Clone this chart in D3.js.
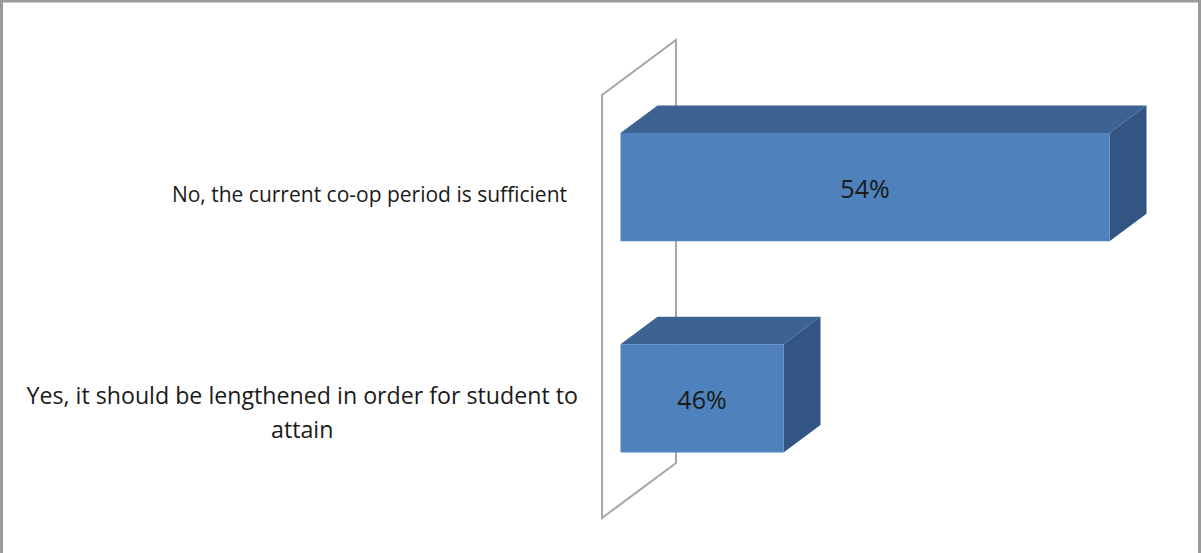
<!DOCTYPE html>
<html>
<head>
<meta charset="utf-8">
<script src="https://cdn.jsdelivr.net/npm/d3@7/dist/d3.min.js"></script>
<style>
  html, body { margin: 0; padding: 0; background: #ffffff; }
  svg { display: block; }
</style>
</head>
<body>
<svg id="chart" width="1201" height="553"></svg>
<script>
// ---- data ----
const categories = [
  ["No, the current co-op period is sufficient"],
  ["Yes, it should be lengthened in order for student to", "attain"]
];
const values = [0.54, 0.46];
const valueLabels = ["54%", "46%"];
const axisDomain = [0.42, 0.54];

// ---- layout / style ----
const W = 1201, H = 553;
const svg = d3.select("#chart");
const depth = { dx: 74, dy: -55 };          // full wall depth offset
const barZ = [0.25, 0.75];                  // bars occupy the middle half of depth
const proj = (x, y, z) => [x + z * depth.dx, y + z * depth.dy];
const labelSizes = [21, 23.2];
const labelRight = [567, 578];
const labelShift = [1, -8];
const lineH = 34;

const x = d3.scaleLinear().domain(axisDomain).range([602, 1091]);
const y = d3.scaleBand().domain(d3.range(categories.length))
  .range([95, 518]).paddingInner(0.488).paddingOuter(0.245);

const colors = { front: "#4f81bd", top: "#3d6392", side: "#325583", wall: "#a6a6a6" };
const font = "'Open Sans', 'Noto Sans', sans-serif";

// outer chart border
svg.append("rect").attr("x", 1.5).attr("y", 1).attr("width", W - 3).attr("height", H + 10)
  .attr("fill", "none").attr("stroke", "#9a9a9a").attr("stroke-width", 3);

// axis wall (vertical plane at axis minimum)
const x0 = x(axisDomain[0]);
const [yTop, yBot] = y.range();
const wallPts = [proj(x0, yTop, 0), proj(x0, yTop, 1), proj(x0, yBot, 1), proj(x0, yBot, 0)];
svg.append("path")
  .attr("d", d3.line()(wallPts) + "Z")
  .attr("fill", "none").attr("stroke", colors.wall).attr("stroke-width", 2);

// bars
const bars = svg.append("g").selectAll("g").data(values).join("g");
bars.each(function (v, i) {
  const g = d3.select(this);
  const xa = x0, xb = x(v);
  const ya = y(i), yb = y(i) + y.bandwidth();
  const [zf, zb] = barZ;
  const poly = pts => d3.line()(pts) + "Z";
  g.append("path").attr("fill", colors.top)
    .attr("d", poly([proj(xa, ya, zf), proj(xb, ya, zf), proj(xb, ya, zb), proj(xa, ya, zb)]));
  g.append("path").attr("fill", colors.side)
    .attr("d", poly([proj(xb, ya, zf), proj(xb, ya, zb), proj(xb, yb, zb), proj(xb, yb, zf)]));
  g.append("path").attr("fill", colors.front)
    .attr("d", poly([proj(xa, ya, zf), proj(xb, ya, zf), proj(xb, yb, zf), proj(xa, yb, zf)]));
  const c = proj((xa + xb) / 2, (ya + yb) / 2, zf);
  g.append("text")
    .attr("x", c[0]).attr("y", c[1] + 11)
    .attr("text-anchor", "middle")
    .attr("font-family", font)
    .attr("font-size", 25)
    .attr("fill", "#1a1a1a")
    .text(valueLabels[i]);
});

// category labels
categories.forEach((lines, i) => {
  const cy = y(i) + y.bandwidth() / 2 + labelShift[i];
  const t = svg.append("text")
    .attr("font-family", font).attr("font-size", labelSizes[i]).attr("fill", "#1a1a1a");
  const n = lines.length;
  const spans = lines.map((ln, j) => t.append("tspan")
    .attr("y", cy + (j - (n - 1) / 2) * lineH + (n > 1 ? lineH / 2 : 0))
    .text(ln));
  const wmax = d3.max(spans.map(s => s.node().getComputedTextLength()));
  spans.forEach(s => s.attr("x", labelRight[i] - wmax / 2).attr("text-anchor", "middle"));
});
</script>
</body>
</html>
